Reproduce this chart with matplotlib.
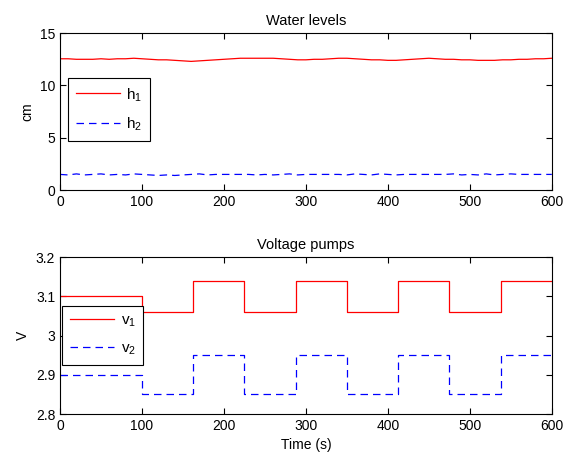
import matplotlib
matplotlib.use("Agg")
import matplotlib.pyplot as plt
import numpy as np

plt.rcParams['font.family'] = ['Liberation Sans', 'DejaVu Sans']
plt.rcParams['font.size'] = 10

t_level = np.arange(0, 601, 10)
h1 = [12.55, 12.55, 12.5, 12.5, 12.5, 12.55, 12.5, 12.55, 12.55, 12.6,
      12.55, 12.5, 12.45, 12.45, 12.4, 12.35, 12.3, 12.35, 12.4, 12.45,
      12.5, 12.55, 12.6, 12.6, 12.6, 12.6, 12.6, 12.55, 12.5, 12.45,
      12.45, 12.5, 12.5, 12.55, 12.6, 12.6, 12.55, 12.5, 12.45, 12.45,
      12.4, 12.4, 12.45, 12.5, 12.55, 12.6, 12.55, 12.5, 12.5, 12.45,
      12.45, 12.4, 12.4, 12.4, 12.45, 12.45, 12.5, 12.5, 12.55, 12.55, 12.6]
h2 = [1.5, 1.45, 1.55, 1.45, 1.5, 1.55, 1.45, 1.5, 1.45, 1.55,
      1.5, 1.45, 1.4, 1.45, 1.4, 1.45, 1.5, 1.55, 1.45, 1.5,
      1.5, 1.5, 1.5, 1.5, 1.45, 1.5, 1.45, 1.5, 1.55, 1.45,
      1.5, 1.5, 1.5, 1.5, 1.5, 1.45, 1.55, 1.5, 1.45, 1.55,
      1.5, 1.45, 1.5, 1.5, 1.5, 1.5, 1.5, 1.5, 1.55, 1.45,
      1.5, 1.45, 1.55, 1.45, 1.5, 1.55, 1.5, 1.5, 1.5, 1.5, 1.5]

# pump voltages, piecewise constant
t_switch = [0, 100, 162.5, 225, 287.5, 350, 412.5, 475, 537.5, 600]
v1 = [3.10, 3.06, 3.14, 3.06, 3.14, 3.06, 3.14, 3.06, 3.14, 3.14]
v2 = [2.90, 2.85, 2.95, 2.85, 2.95, 2.85, 2.95, 2.85, 2.95, 2.95]

fig = plt.figure(figsize=(5.64, 4.57), dpi=100)
ax1 = fig.add_axes([0.1064, 0.584, 0.872, 0.3435])
ax2 = fig.add_axes([0.1064, 0.094, 0.872, 0.3435])

leg_kw = dict(loc='upper left', fancybox=False, edgecolor='black', framealpha=1,
              handlelength=2.9, handletextpad=0.4, borderaxespad=0, fontsize=11,
              labelspacing=0.8, borderpad=0.5)

ax1.plot(t_level, h1, color='red', lw=0.9, label=r'h$_\mathregular{1}$')
ax1.plot(t_level, h2, color='blue', lw=0.9, dashes=(6, 4), label=r'h$_\mathregular{2}$')
ax1.set_xlim(0, 600)
ax1.set_ylim(0, 15)
ax1.set_yticks([0, 5, 10, 15])
ax1.set_title('Water levels', fontsize=10.5)
ax1.set_ylabel('cm')
leg = ax1.legend(bbox_to_anchor=(0.016, 0.713), **leg_kw)
leg.get_frame().set_linewidth(0.8)

ax2.step(t_switch, v1, where='post', color='red', lw=0.9, label=r'v$_\mathregular{1}$')
ax2.step(t_switch, v2, where='post', color='blue', lw=0.9, dashes=(6, 4), label=r'v$_\mathregular{2}$')
ax2.set_xlim(0, 600)
ax2.set_ylim(2.8, 3.2)
ax2.set_yticks([2.8, 2.9, 3.0, 3.1, 3.2])
ax2.set_yticklabels(['2.8', '2.9', '3', '3.1', '3.2'])
ax2.set_title('Voltage pumps', fontsize=10.5)
ax2.set_ylabel('V')
ax2.set_xlabel('Time (s)')
leg = ax2.legend(bbox_to_anchor=(0.005, 0.688), **leg_kw)
leg.get_frame().set_linewidth(0.8)

for ax in (ax1, ax2):
    ax.set_xticks(range(0, 601, 100))
    ax.tick_params(direction='in', top=True, right=True, length=4, labelsize=10)
    for s in ax.spines.values():
        s.set_linewidth(0.8)

fig.savefig('out.png', dpi=100)
